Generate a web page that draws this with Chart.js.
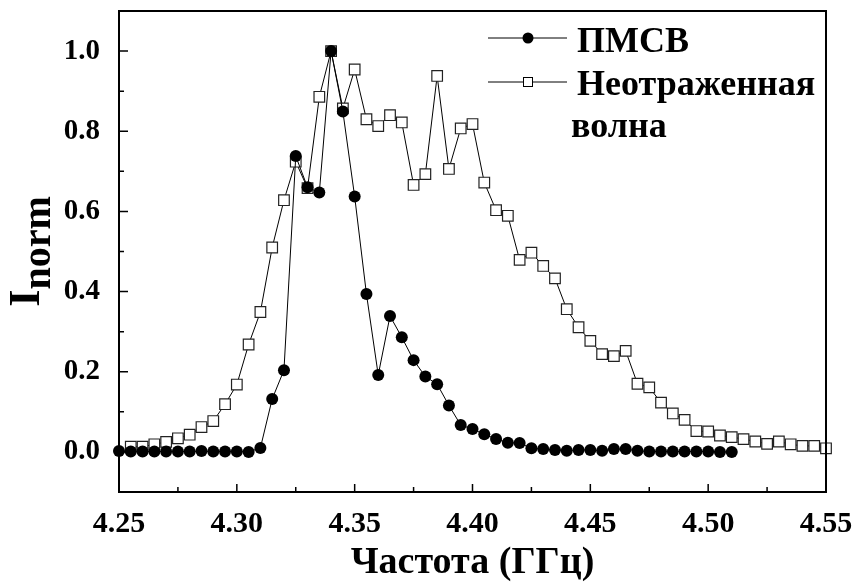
<!DOCTYPE html>
<html>
<head>
<meta charset="utf-8">
<script src="https://cdn.jsdelivr.net/npm/chart.js@4"></script>
<style>
  html, body { margin: 0; padding: 0; background: #fff; }
  #wrap { width: 858px; height: 584px; }
</style>
</head>
<body>
<div id="wrap"><canvas id="freq-chart"></canvas></div>
<script>
// Frequencies (GHz) for each series
const freqPMSV = [4.25, 4.255, 4.26, 4.265, 4.27, 4.275, 4.28, 4.285, 4.29, 4.295,
  4.30, 4.305, 4.31, 4.315, 4.32, 4.325, 4.33, 4.335, 4.34, 4.345,
  4.35, 4.355, 4.36, 4.365, 4.37, 4.375, 4.38, 4.385, 4.39, 4.395,
  4.40, 4.405, 4.41, 4.415, 4.42, 4.425, 4.43, 4.435, 4.44, 4.445,
  4.45, 4.455, 4.46, 4.465, 4.47, 4.475, 4.48, 4.485, 4.49, 4.495,
  4.50, 4.505, 4.51];
const freqWave = [4.255, 4.26, 4.265, 4.27, 4.275, 4.28, 4.285, 4.29, 4.295,
  4.30, 4.305, 4.31, 4.315, 4.32, 4.325, 4.33, 4.335, 4.34, 4.345,
  4.35, 4.355, 4.36, 4.365, 4.37, 4.375, 4.38, 4.385, 4.39, 4.395,
  4.40, 4.405, 4.41, 4.415, 4.42, 4.425, 4.43, 4.435, 4.44, 4.445,
  4.45, 4.455, 4.46, 4.465, 4.47, 4.475, 4.48, 4.485, 4.49, 4.495,
  4.50, 4.505, 4.51, 4.515, 4.52, 4.525, 4.53, 4.535, 4.54, 4.545, 4.55];

// Normalized intensity
const valuesPMSV = [0.002, 0.001, 0.001, 0.001, 0.001, 0.001, 0.001, 0.002, 0.001, 0.001,
  0.001, 0.000, 0.010, 0.132, 0.204, 0.738, 0.660, 0.647, 1.000, 0.849,
  0.637, 0.394, 0.192, 0.339, 0.286, 0.229, 0.188, 0.169, 0.116, 0.067,
  0.057, 0.044, 0.032, 0.023, 0.022, 0.009, 0.007, 0.005, 0.003, 0.005,
  0.005, 0.003, 0.007, 0.007, 0.003, 0.001, 0.001, 0.001, 0.001, 0.001,
  0.001, 0.000, 0.000];
const valuesWave = [0.013, 0.013, 0.019, 0.025, 0.034, 0.043, 0.062, 0.077, 0.119,
  0.168, 0.268, 0.349, 0.510, 0.628, 0.724, 0.658, 0.886, 1.000, 0.857,
  0.954, 0.830, 0.813, 0.840, 0.822, 0.666, 0.693, 0.938, 0.706, 0.807,
  0.818, 0.672, 0.603, 0.589, 0.479, 0.497, 0.464, 0.433, 0.356, 0.311,
  0.277, 0.244, 0.239, 0.252, 0.170, 0.161, 0.123, 0.096, 0.080, 0.052,
  0.051, 0.041, 0.037, 0.032, 0.026, 0.020, 0.026, 0.019, 0.015, 0.015, 0.009];

// Tick values
const xTicks = [4.25, 4.30, 4.35, 4.40, 4.45, 4.50, 4.55];
const xMinorTicks = [4.275, 4.325, 4.375, 4.425, 4.475, 4.525];
const yTicks = [0.0, 0.2, 0.4, 0.6, 0.8, 1.0];
const yMinorTicks = [0.1, 0.3, 0.5, 0.7, 0.9];

const seriesNames = ["ПМСВ", "Неотраженная", "волна"];
const xTitle = "Частота (ГГц)";

const SERIF = "'Liberation Serif', 'Times New Roman', serif";

function toPoints(xs, ys) {
  return xs.map(function (x, i) {
    return { x: x, y: ys[i] };
  });
}

// Frame, inward ticks, axis titles and legend
const decorPlugin = {
  id: "decor",
  afterDraw(chart) {
    const ctx = chart.ctx;
    const a = chart.chartArea;
    const xs = chart.scales.x;
    const ys = chart.scales.y;
    ctx.save();
    ctx.strokeStyle = "#000";
    ctx.lineWidth = 2;
    ctx.strokeRect(a.left, a.top, a.right - a.left, a.bottom - a.top);

    ctx.lineWidth = 1.5;
    ctx.beginPath();
    xTicks.forEach(function (v) {
      const p = xs.getPixelForValue(v);
      ctx.moveTo(p, a.bottom);
      ctx.lineTo(p, a.bottom - 8);
    });
    xMinorTicks.forEach(function (v) {
      const p = xs.getPixelForValue(v);
      ctx.moveTo(p, a.bottom);
      ctx.lineTo(p, a.bottom - 5);
    });
    yTicks.forEach(function (v) {
      const p = ys.getPixelForValue(v);
      ctx.moveTo(a.left, p);
      ctx.lineTo(a.left + 9, p);
    });
    yMinorTicks.forEach(function (v) {
      const p = ys.getPixelForValue(v);
      ctx.moveTo(a.left, p);
      ctx.lineTo(a.left + 5, p);
    });
    ctx.stroke();

    // x axis title
    ctx.fillStyle = "#000";
    ctx.font = "bold 38px " + SERIF;
    ctx.textAlign = "center";
    ctx.textBaseline = "alphabetic";
    ctx.fillText(xTitle, (a.left + a.right) / 2, 573);

    // y axis title: I with subscript "norm"
    ctx.save();
    ctx.translate(0, (a.top + a.bottom) / 2);
    ctx.rotate(-Math.PI / 2);
    ctx.font = "bold 44px " + SERIF;
    const wI = ctx.measureText("I").width;
    ctx.font = "bold 40px " + SERIF;
    const wN = ctx.measureText("norm").width;
    const start = -(wI + wN) / 2;
    ctx.textAlign = "left";
    ctx.font = "bold 44px " + SERIF;
    ctx.fillText("I", start, 39);
    ctx.font = "bold 40px " + SERIF;
    ctx.fillText("norm", start + wI, 50);
    ctx.restore();

    // legend
    ctx.lineWidth = 1;
    ctx.strokeStyle = "#000";
    ctx.beginPath();
    ctx.moveTo(488, 38); ctx.lineTo(567, 38);
    ctx.moveTo(488, 82); ctx.lineTo(567, 82);
    ctx.stroke();
    ctx.beginPath();
    ctx.arc(528, 38, 5.5, 0, Math.PI * 2);
    ctx.fill();
    ctx.fillStyle = "#fff";
    ctx.fillRect(523.5, 77.5, 9, 9);
    ctx.strokeRect(523.5, 77.5, 9, 9);
    ctx.fillStyle = "#000";
    ctx.font = "bold 36px " + SERIF;
    ctx.textAlign = "left";
    ctx.fillText(seriesNames[0], 577, 52);
    ctx.fillText(seriesNames[1], 577, 95);
    ctx.fillText(seriesNames[2], 571, 137);
    ctx.restore();
  },
};

const dataChart = {
  datasets: [
    {
      label: seriesNames[0],
      data: toPoints(freqPMSV, valuesPMSV),
      borderColor: "#000",
      borderWidth: 1,
      backgroundColor: "#000",
      pointStyle: "circle",
      pointRadius: 6,
      pointBorderWidth: 0,
      pointBackgroundColor: "#000",
      tension: 0,
    },
    {
      label: seriesNames[1] + " " + seriesNames[2],
      data: toPoints(freqWave, valuesWave),
      borderColor: "#000",
      borderWidth: 1,
      pointStyle: "rect",
      pointRadius: 7.5,
      pointBorderWidth: 1.2,
      pointBorderColor: "#222",
      pointBackgroundColor: "#fff",
      tension: 0,
    },
  ],
};

const configChart = {
  type: "line",
  data: dataChart,
  options: {
    responsive: true,
    maintainAspectRatio: false,
    animation: false,
    clip: false,
    layout: { padding: { top: 11, right: 32, left: 0, bottom: 0 } },
    plugins: {
      legend: { display: false },
      tooltip: { enabled: false },
    },
    scales: {
      x: {
        type: "linear",
        min: 4.25,
        max: 4.55,
        grid: { display: false },
        border: { display: false },
        afterBuildTicks: function (scale) {
          scale.ticks = xTicks.map(function (v) { return { value: v }; });
        },
        afterFit: function (scale) {
          scale.height = 92;
          scale.paddingLeft = 0;
          scale.paddingRight = 0;
        },
        ticks: {
          padding: 6,
          color: "#000",
          maxRotation: 0,
          font: { family: SERIF, size: 30, weight: "bold" },
          callback: function (v) { return Number(v).toFixed(2); },
        },
      },
      y: {
        type: "linear",
        min: -0.1,
        max: 1.1,
        grid: { display: false },
        border: { display: false },
        afterBuildTicks: function (scale) {
          scale.ticks = yTicks.map(function (v) { return { value: v }; });
        },
        afterFit: function (scale) {
          scale.width = 119;
          scale.paddingTop = 0;
          scale.paddingBottom = 0;
        },
        ticks: {
          padding: 11,
          color: "#000",
          font: { family: SERIF, size: 29, weight: "bold" },
          callback: function (v) { return Number(v).toFixed(1); },
        },
      },
    },
  },
  plugins: [decorPlugin],
};

let freq_chart = new Chart(document.getElementById("freq-chart"), configChart);
</script>
</body>
</html>
